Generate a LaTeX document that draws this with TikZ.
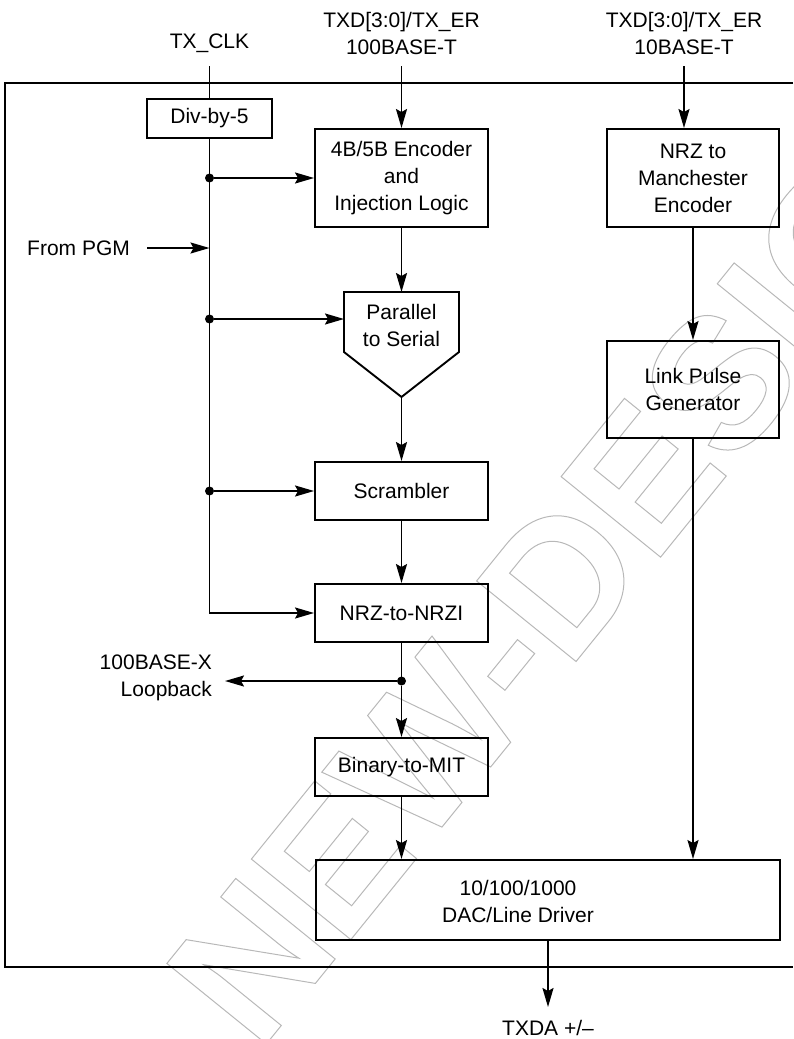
\documentclass[tikz,border=0pt]{standalone}
\usepackage{fontspec}
\setmainfont{Liberation Sans}
\usetikzlibrary{arrows.meta}
\begin{document}
\begin{tikzpicture}[x=1pt,y=-1pt,
  every node/.style={font=\fontsize{21}{27}\selectfont, inner sep=0pt},
  blk/.style={draw, line width=1.9pt, align=center, inner sep=0pt},
  wire/.style={line width=1.9pt},
  arr/.style={wire, -{Stealth[length=19pt,width=11pt,inset=3pt]}},
  dot/.style={circle, fill, inner sep=0pt, minimum size=9pt},
  lbl/.style={align=center},
  wmark/.style={rotate=51, text=black!28, font=\fontsize{186}{186}\selectfont\bfseries}]
\useasboundingbox (0,0) rectangle (793,1039);
% watermark (outlined)
\node[wmark] (wm) at (588,545) {\special{pdf:literal direct 1 Tr 1 w}NEW-DESIGN\special{pdf:literal direct 0 Tr}};
% frame
\draw[wire] (793,83) -- (5,83) -- (5,967) -- (793,967);
% top labels
\node[lbl] (txclk) at (209.5,43) {TX\_CLK};
\node[lbl] (txd100) at (401.5,33) {TXD[3:0]/TX\_ER\\100BASE-T};
\node[lbl] (txd10) at (684,33) {TXD[3:0]/TX\_ER\\10BASE-T};
\coordinate (clktop) at (209.5,66);
\coordinate (t100) at (401.5,66);
\coordinate (t10) at (684,66);
% blocks
\node[blk, minimum width=125pt, minimum height=39pt] (div) at (209.5,118.5) {Div-by-5};
\node[blk, minimum width=173pt, minimum height=98pt] (enc) at (401.5,178) {4B/5B Encoder\\and\\Injection Logic};
\node[blk, minimum width=172pt, minimum height=98pt] (man) at (693,178) {NRZ to\\Manchester\\Encoder};
\draw[wire, line join=miter] (344,292) -- (459,292) -- (459,352) -- (401.5,397) -- (344,352) -- cycle;
\node[lbl] (par) at (401.5,325) {Parallel\\to Serial};
\coordinate (partop) at (401.5,292);
\coordinate (parbot) at (401.5,397);
\coordinate (parin) at (344,319);
\node[blk, minimum width=173pt, minimum height=58pt] (scr) at (401.5,491) {Scrambler};
\node[blk, minimum width=173pt, minimum height=58pt] (nrzi) at (401.5,613) {NRZ-to-NRZI};
\node[blk, minimum width=173pt, minimum height=58pt] (bin) at (401.5,767) {Binary-to-MIT};
\node[blk, minimum width=172pt, minimum height=97pt] (lpg) at (693,389.5) {Link Pulse\\Generator};
\node[blk, minimum width=464pt, minimum height=80pt] (dac) at (548,900) {};
\node[lbl] (dactxt) at (518,901) {10/100/1000\\DAC/Line Driver};
% inputs
\draw[wire] (clktop) -- (div.north);
\draw[arr] (t100) -- (enc.north);
\draw[arr] (t10) -- (t10 |- man.north);
% clock bus
\draw[arr] (div.south) |- (nrzi.west);
\node[dot] (d1) at (209.5,178) {};
\node[dot] (d2) at (209.5,319) {};
\node[dot] (d3) at (209.5,491) {};
\draw[arr] (d1) -- (enc.west);
\draw[arr] (d2) -- (parin);
\draw[arr] (d3) -- (scr.west);
\node[anchor=west] (pgm) at (27,248) {From PGM};
\coordinate (pgmstart) at (147,248);
\coordinate (pgmbus) at (209.5,248);
\draw[arr] (pgmstart) -- (pgmbus);
% main chain
\draw[arr] (enc.south) -- (partop);
\draw[arr] (parbot) -- (scr.north);
\draw[arr] (scr.south) -- (nrzi.north);
\node[dot] (d4) at (401.5,681) {};
\draw[wire] (nrzi.south) -- (d4.center);
\draw[arr] (d4) -- (bin.north);
\coordinate (lbend) at (225,681);
\draw[arr] (d4) -- (lbend);
\node[align=right, anchor=east] (loop) at (212,677.5) {100BASE-X\\Loopback};
\draw[arr] (bin.south) -- (bin.south |- dac.north);
% right chain
\draw[arr] (man.south) -- (lpg.north);
\draw[arr] (lpg.south) -- (lpg.south |- dac.north);
% output
\coordinate (out) at (548,1007);
\draw[arr] (dac.south) -- (out);
\node (txda) at (548,1028) {TXDA +/–};
\end{tikzpicture}
\end{document}
